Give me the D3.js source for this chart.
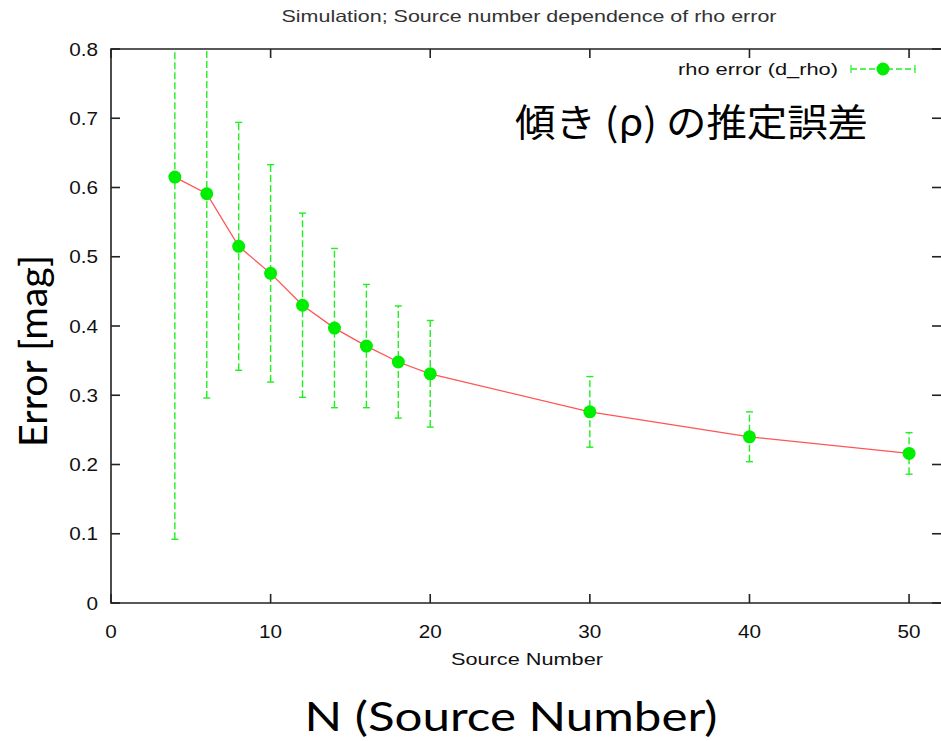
<!DOCTYPE html>
<html>
<head>
<meta charset="utf-8">
<script src="https://cdn.jsdelivr.net/npm/d3@7"></script>
<style>
  body { margin: 0; background: #fff; }
  svg { display: block; }
</style>
</head>
<body>
<script>
// data
var sourceNumbers = [4, 6, 8, 10, 12, 14, 16, 18, 20, 30, 40, 50];
var rhoError = [0.615, 0.591, 0.515, 0.476, 0.430, 0.397, 0.371, 0.348, 0.331, 0.276, 0.240, 0.216];
var rhoErrorBar = [0.523, 0.295, 0.179, 0.157, 0.133, 0.115, 0.089, 0.081, 0.077, 0.051, 0.036, 0.030];
var xTicks = [0, 10, 20, 30, 40, 50];
var yTicks = [0, 0.1, 0.2, 0.3, 0.4, 0.5, 0.6, 0.7, 0.8];

var data = sourceNumbers.map(function(n, i) {
  return { n: n, v: rhoError[i], e: rhoErrorBar[i] };
});

var svgWidth = 941;
var svgHeight = 741;

var svg = d3.select("body")
  .append("svg")
  .attr("width", svgWidth)
  .attr("height", svgHeight);

var plot = { left: 111, right: 941, top: 49, bottom: 603 };

var x = d3.scaleLinear().domain([0, 52]).range([plot.left, plot.right]);
var y = d3.scaleLinear().domain([0, 0.8]).range([plot.bottom, plot.top]);

var axisFont = "'Liberation Sans', Arial, sans-serif";
var tickLen = 9;
var stretch = 1.12; // the gnuplot image was stretched sideways a little

// widen a text node by the stretch factor
function widen(sel) {
  sel.each(function() {
    var w = this.getComputedTextLength();
    d3.select(this).attr("textLength", w * stretch).attr("lengthAdjust", "spacingAndGlyphs");
  });
}

// title
svg.append("text")
  .attr("x", 529)
  .attr("y", 22)
  .attr("text-anchor", "middle")
  .attr("font-family", axisFont)
  .attr("font-size", 16.5)
  .attr("fill", "#333")
  .attr("textLength", 495)
  .attr("lengthAdjust", "spacingAndGlyphs")
  .text("Simulation; Source number dependence of rho error");

// frame + ticks (gnuplot style, mirrored, pointing inward)
var frame = svg.append("g").attr("stroke", "#222").attr("stroke-width", 1.6).attr("fill", "none");
frame.append("path")
  .attr("d", "M" + plot.right + "," + plot.top + "H" + plot.left + "V" + plot.bottom + "H" + plot.right);

xTicks.forEach(function(t) {
  frame.append("line").attr("x1", x(t)).attr("x2", x(t)).attr("y1", plot.bottom).attr("y2", plot.bottom - tickLen);
  frame.append("line").attr("x1", x(t)).attr("x2", x(t)).attr("y1", plot.top).attr("y2", plot.top + tickLen);
});
yTicks.forEach(function(t) {
  frame.append("line").attr("x1", plot.left).attr("x2", plot.left + tickLen).attr("y1", y(t)).attr("y2", y(t));
  frame.append("line").attr("x1", plot.right).attr("x2", plot.right - tickLen).attr("y1", y(t)).attr("y2", y(t));
});

// tick labels
svg.append("g").selectAll("text")
  .data(xTicks)
  .enter()
  .append("text")
  .attr("x", d => x(d))
  .attr("y", 638)
  .attr("text-anchor", "middle")
  .attr("font-family", axisFont)
  .attr("font-size", 18.5)
  .attr("fill", "#111")
  .text(d => d)
  .call(widen);

svg.append("g").selectAll("text")
  .data(yTicks)
  .enter()
  .append("text")
  .attr("x", 98)
  .attr("y", d => y(d) + 6.5)
  .attr("text-anchor", "end")
  .attr("font-family", axisFont)
  .attr("font-size", 18.5)
  .attr("fill", "#111")
  .text(d => d === 0 ? "0" : d3.format(".1f")(d))
  .call(widen);

// small axis label
svg.append("text")
  .attr("x", 527)
  .attr("y", 665)
  .attr("text-anchor", "middle")
  .attr("font-family", axisFont)
  .attr("font-size", 17)
  .attr("fill", "#111")
  .attr("textLength", 152)
  .attr("lengthAdjust", "spacingAndGlyphs")
  .text("Source Number");

// clip for error bars
svg.append("clipPath").attr("id", "plotclip")
  .append("rect")
  .attr("x", plot.left).attr("y", plot.top)
  .attr("width", plot.right - plot.left).attr("height", plot.bottom - plot.top);

var chartGroup = svg.append("g").attr("clip-path", "url(#plotclip)");

var green = "#22ee22";

// error bars
var bars = chartGroup.append("g")
  .attr("stroke", green)
  .attr("stroke-width", 1.4)
  .attr("fill", "none");

bars.selectAll("line.v")
  .data(data)
  .enter()
  .append("line")
  .attr("class", "v")
  .attr("x1", d => x(d.n))
  .attr("x2", d => x(d.n))
  .attr("y1", d => y(d.v - d.e))
  .attr("y2", d => y(d.v + d.e))
  .attr("stroke-dasharray", "7,3");

bars.selectAll("line.top")
  .data(data)
  .enter()
  .append("line")
  .attr("x1", d => x(d.n) - 3.5)
  .attr("x2", d => x(d.n) + 3.5)
  .attr("y1", d => y(d.v + d.e))
  .attr("y2", d => y(d.v + d.e));

bars.selectAll("line.bot")
  .data(data)
  .enter()
  .append("line")
  .attr("x1", d => x(d.n) - 3.5)
  .attr("x2", d => x(d.n) + 3.5)
  .attr("y1", d => y(d.v - d.e))
  .attr("y2", d => y(d.v - d.e));

// red connecting line
var line = d3.line()
  .x(d => x(d.n))
  .y(d => y(d.v));

chartGroup.append("path")
  .datum(data)
  .attr("d", line)
  .attr("fill", "none")
  .attr("stroke", "#ff5555")
  .attr("stroke-width", 1.3);

// points
chartGroup.selectAll("circle")
  .data(data)
  .enter()
  .append("circle")
  .attr("cx", d => x(d.n))
  .attr("cy", d => y(d.v))
  .attr("r", 6.5)
  .attr("fill", "#00ee00");

// legend
var legend = svg.append("g");
legend.append("text")
  .attr("x", 838)
  .attr("y", 75)
  .attr("text-anchor", "end")
  .attr("font-family", axisFont)
  .attr("font-size", 17)
  .attr("fill", "#111")
  .attr("textLength", 160)
  .attr("lengthAdjust", "spacingAndGlyphs")
  .text("rho error (d_rho)");
legend.append("line")
  .attr("x1", 851).attr("x2", 915).attr("y1", 69).attr("y2", 69)
  .attr("stroke", green).attr("stroke-width", 1.4).attr("stroke-dasharray", "6,3");
[851, 915].forEach(function(px) {
  legend.append("line")
    .attr("x1", px).attr("x2", px).attr("y1", 65).attr("y2", 73)
    .attr("stroke", green).attr("stroke-width", 1.2);
});
legend.append("circle").attr("cx", 883).attr("cy", 69).attr("r", 6.5).attr("fill", "#00ee00");

// big annotations (slide text)
var bigFont = "Lato, 'Open Sans', 'Noto Sans', sans-serif";

svg.append("text")
  .attr("x", 515)
  .attr("y", 136)
  .attr("font-family", "'Noto Sans CJK JP', sans-serif")
  .attr("font-size", 38)
  .attr("textLength", 353)
  .attr("lengthAdjust", "spacingAndGlyphs")
  .attr("fill", "#000")
  .attr("xml:space", "preserve")
  .text("傾き (ρ) の推定誤差");

svg.append("text")
  .attr("transform", "translate(47, 351) rotate(-90)")
  .attr("text-anchor", "middle")
  .attr("font-family", bigFont)
  .attr("font-size", 38)
  .attr("textLength", 192)
  .attr("lengthAdjust", "spacingAndGlyphs")
  .attr("fill", "#000")
  .text("Error [mag]");

svg.append("text")
  .attr("x", 511)
  .attr("y", 731)
  .attr("text-anchor", "middle")
  .attr("font-family", bigFont)
  .attr("font-size", 41)
  .attr("textLength", 413)
  .attr("lengthAdjust", "spacingAndGlyphs")
  .attr("fill", "#000")
  .text("N (Source Number)");
</script>
</body>
</html>
